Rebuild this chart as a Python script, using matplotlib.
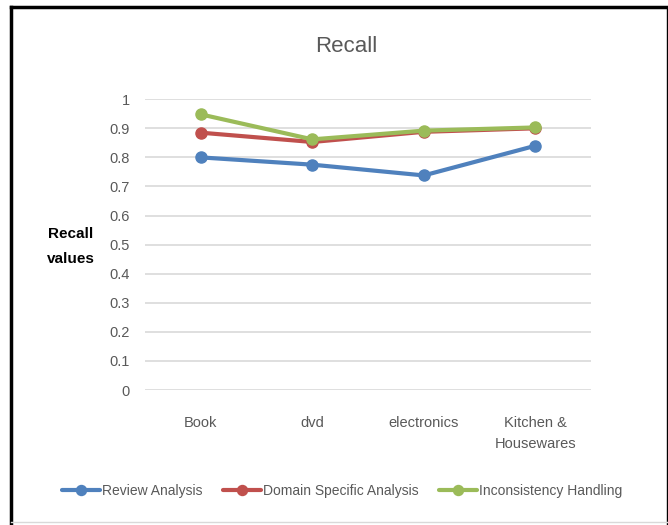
import matplotlib
matplotlib.use("Agg")
import matplotlib.pyplot as plt
from matplotlib.lines import Line2D

# Recall per product domain for the three approaches
categories = ["Book", "dvd", "electronics", "Kitchen &\nHousewares"]
review_analysis = [0.80, 0.775, 0.738, 0.84]
domain_specific = [0.885, 0.853, 0.888, 0.90]
inconsistency_handling = [0.948, 0.862, 0.892, 0.903]
y_ticks = [0, 0.1, 0.2, 0.3, 0.4, 0.5, 0.6, 0.7, 0.8, 0.9, 1]

plt.rcParams["font.family"] = ["Liberation Sans", "DejaVu Sans"]
grey_text = "#595959"

fig = plt.figure(figsize=(6.68, 5.25), dpi=100)
ax = fig.add_axes([0.217, 0.257, 0.668, 0.554])

series = [
    (review_analysis, "#4F81BD", "Review Analysis"),
    (domain_specific, "#C0504D", "Domain Specific Analysis"),
    (inconsistency_handling, "#9BBB59", "Inconsistency Handling"),
]
x = range(len(categories))
for values, color, label in series:
    ax.plot(x, values, color=color, lw=3, marker="o", markersize=8,
            label=label, solid_capstyle="round")

ax.set_xlim(-0.5, len(categories) - 0.5)
ax.set_ylim(0, 1)
ax.set_yticks(y_ticks)
ax.set_yticklabels([f"{t:g}" for t in y_ticks], fontsize=10.5, color=grey_text)
ax.set_xticks(list(x))
ax.set_xticklabels(categories, fontsize=10.5, color=grey_text, linespacing=1.6)
ax.tick_params(length=0)
ax.tick_params(axis="y", pad=11)
ax.tick_params(axis="x", pad=19)
ax.yaxis.grid(True, color="#D9D9D9", lw=1.2)
ax.set_axisbelow(True)
for s in ax.spines.values():
    s.set_visible(False)

fig.text(0.518, 1 - 46 / 525, "Recall", ha="center", va="center",
         fontsize=16, color=grey_text)
fig.text(0.106, 0.530, "Recall\nvalues", ha="center", va="center",
         fontsize=11, fontweight="bold", linespacing=2.0)

leg = fig.legend(loc="center", bbox_to_anchor=(0.512, 1 - 491 / 525), ncol=3,
                 frameon=False, fontsize=10, handlelength=2.7,
                 columnspacing=1.5, handletextpad=0.15, borderaxespad=0,
                 borderpad=0, markerscale=0.9)
for t in leg.get_texts():
    t.set_color(grey_text)

# outer frame
fig.add_artist(Line2D([0.016, 0.016], [0.0, 0.987], transform=fig.transFigure,
                      color="black", lw=2.5))
fig.add_artist(Line2D([0.016, 1.0], [0.987, 0.987], transform=fig.transFigure,
                      color="black", lw=2.5))
fig.add_artist(Line2D([0.998, 0.998], [0.0, 0.987], transform=fig.transFigure,
                      color="black", lw=1))
fig.add_artist(Line2D([0.016, 1.0], [0.006, 0.006], transform=fig.transFigure,
                      color="#D9D9D9", lw=1))

fig.savefig("out.png", dpi=100)
